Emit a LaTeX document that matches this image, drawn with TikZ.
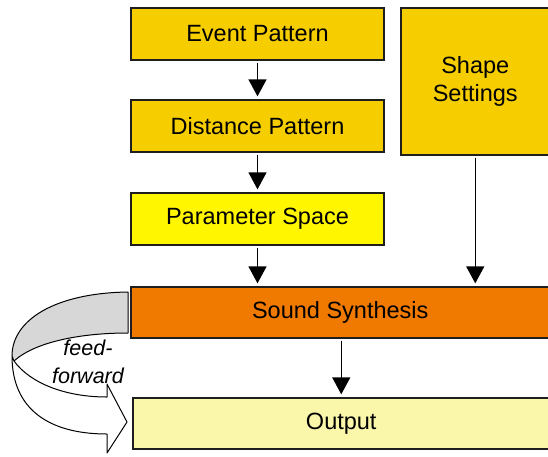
\documentclass[tikz,border=0pt]{standalone}
\usepackage{fontspec}
\setmainfont{Liberation Sans}
\usetikzlibrary{arrows.meta}
\definecolor{gold}{RGB}{246,206,0}
\definecolor{brightyel}{RGB}{255,246,0}
\definecolor{orng}{RGB}{240,122,0}
\definecolor{paleyel}{RGB}{250,246,170}
\definecolor{bandgray}{RGB}{215,215,215}
\definecolor{edge}{RGB}{30,30,30}
\tikzset{
  box/.style={draw=edge, line width=1.3pt, inner sep=0pt, font=\fontsize{23.5}{28}\selectfont, align=center},
  arr/.style={line width=1.3pt, -{Triangle[width=18pt,length=17pt]}, shorten >=3pt, shorten <=2pt},
  band/.style={draw=black, line width=1pt, line join=round}
}
\begin{document}
\begin{tikzpicture}[x=1pt,y=-1pt]
\useasboundingbox (0,0) rectangle (548,456);
\clip (0,0) rectangle (548,456);
\node[box, fill=gold, minimum width=253pt, minimum height=52pt] (ep) at (257.5,34) {Event Pattern};
\node[box, fill=gold, minimum width=253pt, minimum height=52pt] (dp) at (257.5,126) {Distance Pattern};
\node[box, fill=brightyel, minimum width=253pt, minimum height=52pt] (ps) at (257.5,219) {Parameter Space};
\node[box, fill=gold, minimum width=148.5pt, minimum height=147pt] (sh) at (475.25,81.5) {Shape\\Settings};
\node[box, fill=orng, minimum width=418.5pt, minimum height=51pt] (ss) at (340.25,312.5) {Sound Synthesis};
\node[box, fill=paleyel, minimum width=416.5pt, minimum height=51pt] (out) at (341.25,423.5) {Output};
\draw[arr] (ep) -- (dp);
\draw[arr] (dp) -- (ps);
\draw[arr] (ps) -- (ps |- ss.north);
\draw[arr] (sh) -- (sh |- ss.north);
\draw[arr] (out.north |- ss.south) -- (out.north);
% feed-forward curved arrow
\coordinate (cusp) at (14,361);
\fill[bandgray] (128,292) .. controls (55,293) and (12,320) .. (12,356) -- (cusp)
  .. controls (35,342) and (80,333) .. (128,333) -- cycle;
\draw[band] (128,333) -- (128,292) .. controls (55,293) and (12,320) .. (12,356);
\draw[band] (cusp) .. controls (35,342) and (80,333) .. (128,333);
\draw[band, fill=white] (cusp) .. controls (30,383) and (65,397) .. (107,397) -- (107,384) -- (127,422) -- (107,453) -- (107,434)
  .. controls (50,434) and (12,410) .. (12,356) -- cycle;
\node[font=\fontsize{21.5}{28}\itshape, align=center] (ff) at (88,362) {feed-\\forward};
\end{tikzpicture}
\end{document}
